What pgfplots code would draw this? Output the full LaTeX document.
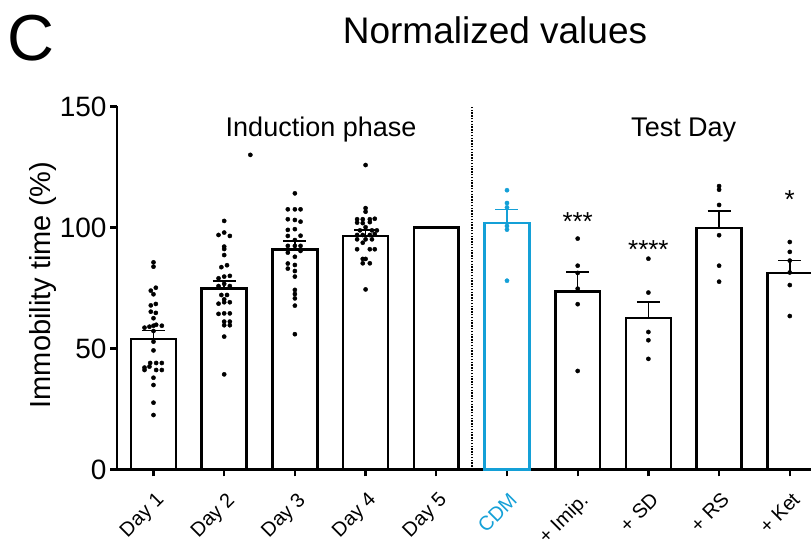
\documentclass[border=0pt]{standalone}
\usepackage{pgfplots}
\pgfplotsset{compat=1.18}
\usepackage{fontspec}
\setmainfont{Liberation Sans}
\definecolor{cdm}{RGB}{20,160,215}

\begin{document}
\begin{tikzpicture}
  \begin{axis}[
      scale only axis, width=694pt, height=363pt,
      xmin=-0.516, xmax=9.3, ymin=0, ymax=150,
      clip=false,
      axis x line=bottom, axis y line=left,
      axis line style={-, line width=2.5pt, black},
      tick align=outside, major tick length=7pt,
      tick style={line width=2.3pt, black},
      ytick={0,50,100,150},
      xtick={0,...,9},
      xticklabels={Day 1,Day 2,Day 3,Day 4,Day 5,\textcolor{cdm}{CDM},+ Imip.,+ SD,+ RS,+ Ket},
      xticklabel style={rotate=45, anchor=north east, xshift=-6pt, yshift=-8pt, font=\fontsize{20}{22}\selectfont},
      yticklabel style={font=\fontsize{28}{30}\selectfont},
      /pgf/number format/assume math mode=true,
      ylabel={Immobility time (\%)},
      ylabel style={at={(axis description cs:-0.106,0.508)}, rotate=0, anchor=center, font=\fontsize{29}{32}\selectfont},
      title={Normalized values},
      title style={at={(axis description cs:0.5447,1.1556)}, anchor=base, font=\fontsize{37}{40}\selectfont},
    ]
    % bars, mean + SEM
    \addplot[ybar, bar width=0.636, draw=black, fill=white, line width=2.6pt,
      error bars/.cd, y dir=plus, y explicit,
      error bar style={line width=1.6pt, black},
      error mark=|, error mark options={line width=1.6pt, mark size=11.5pt, black}]
      coordinates {(0,53.9) +- (0,3.5) (1,74.9) +- (0,3.0) (2,91.0) +- (0,3.4) (3,96.5) +- (0,2.5)};
    \addplot[ybar, bar width=0.636, draw=black, fill=white, line width=2.6pt]
      coordinates {(4,100)};
    \addplot[ybar, bar width=0.636, draw=cdm, fill=white, line width=2.6pt,
      error bars/.cd, y dir=plus, y explicit,
      error bar style={line width=1.6pt, cdm},
      error mark=|, error mark options={line width=1.6pt, mark size=11.5pt, cdm}]
      coordinates {(5,101.9) +- (0,5.5)};
    \addplot[ybar, bar width=0.636, draw=black, fill=white, line width=2.6pt,
      error bars/.cd, y dir=plus, y explicit,
      error bar style={line width=1.6pt, black},
      error mark=|, error mark options={line width=1.6pt, mark size=11.5pt, black}]
      coordinates {(6,73.5) +- (0,8.2) (7,62.6) +- (0,6.6) (8,99.7) +- (0,7.2) (9,81.2) +- (0,5.1)};

    % individual animals
    \addplot[only marks, mark=*, mark size=2.1pt, black] coordinates {
      (0,85.6) (0,83.8) (0.033,75.1) (-0.038,73.9) (0,72.4) (0.033,68.4) (-0.038,67.8)
      (-0.038,65.2) (0.033,64.7) (0,62.5) (-0.127,58.6) (-0.057,59.0) (0,59.4) (0.038,59.8)
      (0.118,59.4) (0,57.2) (0,52.8) (0,49.2) (-0.047,44.0) (0.038,44.0) (0.118,44.0)
      (-0.127,42.1) (-0.057,42.5) (-0.127,41.1) (0.038,41.1) (0.118,41.1) (0,37.9)
      (0,34.9) (0,27.6) (0,22.5)
    };
    \addplot[only marks, mark=*, mark size=2.1pt, black] coordinates {
      (1,102.7) (0.92,96.9) (1,97.9) (1.08,96.5) (1,92.1) (1,91.1) (1,88.6) (0.96,83.6)
      (1.04,84.4) (0.92,79.0) (1,79.7) (1.08,80.0) (0.92,75.8) (1,76.7) (1.08,75.8)
      (0.96,72.1) (1.04,72.1) (1,70.3) (0.92,68.5) (1,69.1) (1.08,69.1) (0.92,64.3)
      (1,64.5) (1.08,64.5) (1,61.1) (1.08,61.1) (1,59.6) (1.08,59.6) (1,54.9) (1,39.3)
      (1.37,130)
    };
    \addplot[only marks, mark=*, mark size=2.1pt, black] coordinates {
      (2,114.1) (1.9,107.5) (2,107.5) (2.08,107.5) (1.9,103.4) (2,103.1) (2.08,102.4)
      (1.9,99.0) (2,99.3) (2.08,96.6) (1.9,96.5) (2,94.8) (1.9,92.4) (2,92.4) (2.08,92.4)
      (2.08,90.3) (1.9,89.6) (2,87.9) (1.9,85.1) (2,84.5) (1.9,83.0) (2,82.0) (2,79.7)
      (2,74.2) (2,72.5) (2,70.7) (2,67.7) (2,55.9)
    };
    \addplot[only marks, mark=*, mark size=2.1pt, black] coordinates {
      (3,125.8) (3,108.0) (3,106.5) (2.88,103.4) (2.96,103.4) (3.06,103.4) (3.13,103.6)
      (2.88,102.0) (2.96,101.8) (3.06,102.2) (3,100.1) (2.92,98.8) (3.09,98.8) (3.16,98.8)
      (2.88,96.9) (2.96,96.9) (3.06,96.9) (3.13,97.3) (2.88,95.1) (3,95.1) (3.09,95.1)
      (2.96,93.7) (2.88,91.0) (3.06,91.0) (3.13,91.0) (2.96,87.0) (3,87.0) (2.96,85.2)
      (3.06,85.2) (3,74.4)
    };
    \addplot[only marks, mark=*, mark size=2.1pt, cdm] coordinates {
      (5,115.4) (5,110.1) (5,108.3) (5,100.6) (5,99.1) (5,78.0)
    };
    \addplot[only marks, mark=*, mark size=2.1pt, black] coordinates {
      (6,95.4) (6,84.2) (6,81.2) (6,74.7) (6,68.3) (6,40.7)
      (7,87.1) (7,73.1) (7,56.8) (7,53.4) (7,45.7)
      (8,117.1) (8,115.6) (8,109.3) (8,96.8) (8,84.2) (8,77.6)
      (9,94.0) (9,89.9) (9,86.3) (9,81.4) (9,76.2) (9,63.4)
    };

    % phase separator and annotations
    \draw[line width=2pt, dash pattern=on 1.4pt off 1.4pt] (axis cs:4.5,0) -- (axis cs:4.5,150);
    \node[anchor=base, font=\fontsize{27}{30}\selectfont] at (axis cs:2.37,137.4) {Induction phase};
    \node[anchor=base, font=\fontsize{27}{30}\selectfont] at (axis cs:7.50,137.4) {Test Day};
    \node[anchor=base, font=\fontsize{26}{30}\selectfont] at (axis cs:6,98.6) {***};
    \node[anchor=base, font=\fontsize{26}{30}\selectfont] at (axis cs:7,87.0) {****};
    \node[anchor=base, font=\fontsize{26}{30}\selectfont] at (axis cs:9,107.9) {*};
    \node[anchor=base, font=\fontsize{65}{70}\selectfont] at (axis cs:-1.733,169.0) {C};

    \coordinate (bbll) at (axis cs:-2.171,-33.7);
    \coordinate (bbur) at (axis cs:9.30,194.0);
  \end{axis}
  \pgfresetboundingbox
  \path[use as bounding box] (bbll) rectangle (bbur);
\end{tikzpicture}
\end{document}
